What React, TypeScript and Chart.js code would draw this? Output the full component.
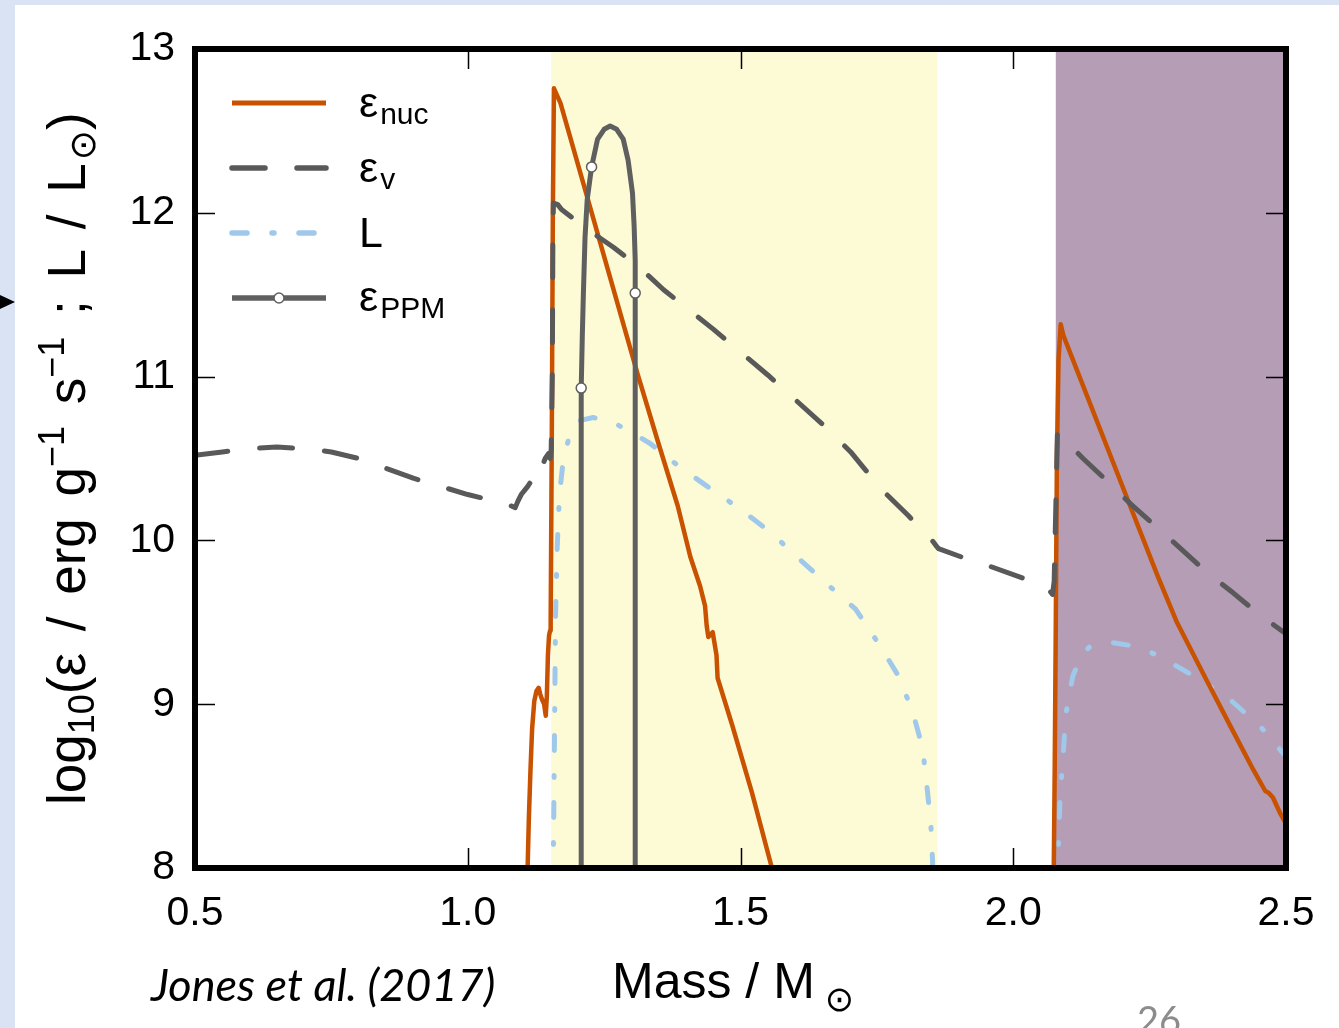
import React, { useEffect, useRef } from "react";
import { Chart, registerables } from "chart.js";

Chart.register(...registerables);

// ---------- data ----------
const xTickValues = [0.5, 1.0, 1.5, 2.0, 2.5];
const yTickValues = [8, 9, 10, 11, 12, 13];

// shaded mass ranges
const bandStart = [1.153, 2.078];
const bandEnd = [1.861, 2.5];
const bandColor = ["#fdfad6", "#b59db5"];

// epsilon_nuc (two burning episodes, gap = null)
const nucMass = [
  1.109, 1.112, 1.115, 1.118, 1.122, 1.126, 1.13, 1.133, 1.136, 1.14, 1.143, 1.145, 1.147, 1.149, 1.151,
  1.152, 1.154, 1.156, 1.158, 1.17, 1.311, 1.348, 1.385, 1.408, 1.426, 1.435, 1.438, 1.441, 1.449, 1.456,
  1.458, 1.485, 1.521, 1.556, 1.562,
  1.8,
  2.074, 2.076, 2.078, 2.08, 2.083, 2.087, 2.092, 2.212, 2.265, 2.3, 2.357, 2.399, 2.44, 2.462, 2.468,
  2.476, 2.49, 2.5,
];
const nucLog = [
  7.9, 8.3, 8.6, 8.85, 9.02, 9.08, 9.1, 9.06, 9.03, 9.0, 8.93, 9.05, 9.3, 9.42, 9.45,
  9.5, 10.6, 12.0, 12.76, 12.67, 11.02, 10.61, 10.21, 9.9, 9.72, 9.6, 9.48, 9.41, 9.44, 9.3,
  9.16, 8.87, 8.46, 8.02, 7.9,
  null,
  7.9, 8.6, 9.5, 10.5, 11.1, 11.32, 11.25, 10.23, 9.78, 9.5, 9.13, 8.86, 8.6, 8.47, 8.46,
  8.43, 8.33, 8.27,
];

// epsilon_v
const vMass = [
  0.5, 0.55, 0.6, 0.65, 0.7, 0.75, 0.8, 0.85, 0.9, 0.95, 1.0, 1.05, 1.08, 1.087, 1.092, 1.098,
  1.11, 1.12, 1.128, 1.132, 1.136, 1.142, 1.148, 1.151, 1.153, 1.155, 1.156, 1.157, 1.165, 1.172,
  1.219, 1.267, 1.317, 1.359, 1.45, 1.55, 1.65, 1.702, 1.724, 1.762, 1.808, 1.849, 1.858, 1.863,
  1.904, 1.959, 2.017, 2.065, 2.072, 2.075, 2.078, 2.081, 2.09, 2.128, 2.173, 2.216, 2.263, 2.307,
  2.353, 2.403, 2.45, 2.5,
];
const vLog = [
  10.52, 10.54, 10.56, 10.57, 10.56, 10.54, 10.5, 10.44, 10.38, 10.33, 10.28, 10.24, 10.21, 10.2, 10.24, 10.28,
  10.33, 10.38, 10.42, 10.47, 10.45, 10.5, 10.53, 10.5, 10.56, 11.0, 11.8, 12.06, 12.05, 12.02,
  11.9, 11.79, 11.66, 11.53, 11.29, 11.01, 10.71, 10.54, 10.45, 10.3, 10.15, 10.01, 9.97, 9.95,
  9.9, 9.84, 9.77, 9.7, 9.67, 9.75, 10.2, 10.66, 10.63, 10.5, 10.36, 10.22, 10.08, 9.95,
  9.81, 9.68, 9.55, 9.43,
];

// luminosity L (two episodes, gap = null)
const lumMass = [
  1.155, 1.157, 1.159, 1.161, 1.164, 1.168, 1.175, 1.185, 1.192, 1.203, 1.23, 1.261, 1.3, 1.335, 1.384,
  1.439, 1.5, 1.555, 1.61, 1.66, 1.711, 1.757, 1.79, 1.816, 1.834, 1.843, 1.849, 1.852, 1.853,
  1.95,
  2.08, 2.083, 2.086, 2.091, 2.096, 2.109, 2.125, 2.14, 2.175, 2.212, 2.25, 2.28, 2.342, 2.397, 2.454, 2.5,
];
const lumLog = [
  7.9, 8.1, 8.8, 9.56, 9.96, 10.27, 10.49, 10.62, 10.67, 10.73, 10.75, 10.73, 10.66, 10.59, 10.46,
  10.33, 10.19, 10.05, 9.88, 9.73, 9.58, 9.35, 9.17, 8.95, 8.73, 8.46, 8.26, 8.05, 7.9,
  null,
  7.9, 8.16, 8.45, 8.66, 8.93, 9.17, 9.3, 9.35, 9.38, 9.36, 9.32, 9.27, 9.15, 9.03, 8.86, 8.68,
];

// epsilon_PPM
const ppmMass = [
  1.208, 1.208, 1.21, 1.212, 1.215, 1.219, 1.227, 1.238, 1.25, 1.261, 1.273, 1.285, 1.294, 1.302,
  1.305, 1.307, 1.307, 1.307,
];
const ppmLog = [
  7.9, 10.93, 11.25, 11.51, 11.85, 12.08, 12.28, 12.45, 12.51, 12.53, 12.51, 12.45, 12.32, 12.12,
  11.92, 11.71, 11.51, 7.9,
];
const ppmMarkerIdx = [1, 6, 16];

// ---------- styles ----------
const FONT = "'Liberation Sans', Arial, Helvetica, sans-serif";
const C_NUC = "#c85200";
const C_V = "#595959";
const C_L = "#9fc8ea";
const C_PPM = "#5f5f5f";
const DASH_V = [33, 32];
const DASH_L = [15, 25, 2, 25];

const pts = (xs: number[], ys: (number | null)[]) => xs.map((x, i) => ({ x, y: ys[i] }));

const decorPlugin = {
  id: "decor",
  beforeDatasetsDraw(chart: any) {
    const { ctx, chartArea: a, scales } = chart;
    const xs = scales.x;
    ctx.save();
    for (let i = 0; i < bandStart.length; i++) {
      const x0 = xs.getPixelForValue(bandStart[i]);
      const x1 = xs.getPixelForValue(bandEnd[i]);
      ctx.fillStyle = bandColor[i];
      ctx.fillRect(x0, a.top, x1 - x0, a.bottom - a.top);
    }
    ctx.restore();
  },
  afterDatasetsDraw(chart: any) {
    const { ctx, chartArea: a, scales } = chart;
    const xs = scales.x;
    const ys = scales.y;
    const TL = 20;
    ctx.save();
    ctx.strokeStyle = "#000";
    ctx.lineWidth = 1.5;
    ctx.beginPath();
    for (const t of xs.ticks) {
      const px = Math.round(xs.getPixelForValue(t.value)) + 0.5;
      ctx.moveTo(px, a.bottom);
      ctx.lineTo(px, a.bottom - TL);
      ctx.moveTo(px, a.top);
      ctx.lineTo(px, a.top + TL);
    }
    for (const t of ys.ticks) {
      const py = Math.round(ys.getPixelForValue(t.value)) + 0.5;
      ctx.moveTo(a.left, py);
      ctx.lineTo(a.left + TL, py);
      ctx.moveTo(a.right, py);
      ctx.lineTo(a.right - TL, py);
    }
    ctx.stroke();
    ctx.lineWidth = 6;
    ctx.strokeRect(a.left, a.top, a.right - a.left, a.bottom - a.top);

    // legend samples
    const x0 = a.left + 37;
    const x1 = a.left + 131;
    const rows = [54, 119, 184, 249];
    const order = [2, 1, 3, 0]; // nuc, v, L, ppm
    order.forEach((di, r) => {
      const ds = chart.data.datasets[di];
      const y = a.top + rows[r];
      ctx.save();
      ctx.strokeStyle = ds.borderColor;
      ctx.lineWidth = ds.borderWidth + 0.5;
      ctx.lineCap = ds.borderDash && ds.borderDash.length ? "round" : "butt";
      ctx.setLineDash(ds.borderDash || []);
      ctx.beginPath();
      ctx.moveTo(x0, y);
      ctx.lineTo(x1, y);
      ctx.stroke();
      if (di === 0) {
        ctx.setLineDash([]);
        ctx.fillStyle = "#fff";
        ctx.lineWidth = 1.5;
        ctx.beginPath();
        ctx.arc((x0 + x1) / 2, y, 5, 0, Math.PI * 2);
        ctx.fill();
        ctx.stroke();
      }
      ctx.restore();
    });
    ctx.restore();
  },
};

function ChartCanvas() {
  const ref = useRef<HTMLCanvasElement | null>(null);
  useEffect(() => {
    if (!ref.current) return;
    const ppmRadius = ppmMass.map((_, i) => (ppmMarkerIdx.includes(i) ? 5 : 0));
    const chart = new Chart(ref.current, {
      type: "line",
      data: {
        datasets: [
          {
            label: "εPPM",
            data: pts(ppmMass, ppmLog),
            borderColor: C_PPM,
            borderWidth: 5,
            borderJoinStyle: "round",
            pointRadius: ppmRadius,
            pointBackgroundColor: "#fff",
            pointBorderColor: C_PPM,
            pointBorderWidth: 1.5,
            clip: 0,
          } as any,
          {
            label: "εv",
            data: pts(vMass, vLog),
            borderColor: C_V,
            borderWidth: 5,
            borderDash: DASH_V,
            borderCapStyle: "round",
            borderJoinStyle: "round",
            pointRadius: 0,
            clip: 0,
          },
          {
            label: "εnuc",
            data: pts(nucMass, nucLog),
            borderColor: C_NUC,
            borderWidth: 4.5,
            borderJoinStyle: "round",
            pointRadius: 0,
            clip: 0,
          },
          {
            label: "L",
            data: pts(lumMass, lumLog),
            borderColor: C_L,
            borderWidth: 5,
            borderDash: DASH_L,
            borderCapStyle: "round",
            borderJoinStyle: "round",
            pointRadius: 0,
            clip: 0,
          },
        ],
      },
      options: {
        animation: false,
        responsive: false,
        devicePixelRatio: 1,
        spanGaps: false,
        layout: { padding: { left: 0, right: 53, top: 49, bottom: 0 } },
        plugins: { legend: { display: false }, tooltip: { enabled: false } },
        scales: {
          x: {
            type: "linear",
            min: 0.5,
            max: 2.5,
            afterBuildTicks: (s: any) => {
              s.ticks = xTickValues.map((v) => ({ value: v }));
            },
            afterFit: (s: any) => {
              s.height = 160;
            },
            ticks: {
              color: "#000",
              font: { family: FONT, size: 41 },
              padding: 13,
              maxRotation: 0,
              autoSkip: false,
              callback: (v: any) => Number(v).toFixed(1),
            },
            grid: { display: false },
            border: { display: false },
          },
          y: {
            type: "linear",
            min: 8,
            max: 13,
            afterBuildTicks: (s: any) => {
              s.ticks = yTickValues.map((v) => ({ value: v }));
            },
            afterFit: (s: any) => {
              s.width = 195;
            },
            ticks: {
              color: "#000",
              font: { family: FONT, size: 41 },
              padding: 12,
              autoSkip: false,
              callback: (v: any) => String(v),
            },
            grid: { display: false },
            border: { display: false },
          },
        },
      } as any,
      plugins: [decorPlugin],
    });
    return () => chart.destroy();
  }, []);
  return (
    <canvas
      ref={ref}
      width={1339}
      height={1028}
      style={{ position: "absolute", left: 0, top: 0, width: 1339, height: 1028 }}
    />
  );
}

const abs = (o: React.CSSProperties): React.CSSProperties => ({ position: "absolute", whiteSpace: "nowrap", ...o });

export default function App() {
  const legendRows: { main: string; sub: string; baseline: number }[] = [
    { main: "ε", sub: "nuc", baseline: 117 },
    { main: "ε", sub: "v", baseline: 182 },
    { main: "L", sub: "", baseline: 247 },
    { main: "ε", sub: "PPM", baseline: 311 },
  ];
  const LF = 43;
  const sup: React.CSSProperties = { fontSize: 36, position: "relative", top: -21 };
  return (
    <div
      style={{
        position: "absolute",
        left: 0,
        top: 0,
        width: 1339,
        height: 1028,
        overflow: "hidden",
        background: "#fff",
        fontFamily: FONT,
        color: "#000",
      }}
    >
      <div style={abs({ left: 0, top: 0, width: 15, height: 1028, background: "#dae3f3" })} />
      <div style={abs({ left: 0, top: 0, width: 1339, height: 5, background: "#dae3f3" })} />
      <div
        style={abs({
          left: 0,
          top: 295,
          width: 0,
          height: 0,
          borderTop: "7px solid transparent",
          borderBottom: "7px solid transparent",
          borderLeft: "15px solid #000",
        })}
      />
      <ChartCanvas />
      {legendRows.map((r, i) => (
        <div key={i} style={abs({ left: 359, top: r.baseline - 0.8465 * LF, fontSize: LF, lineHeight: `${LF}px` })}>
          {r.main}
          {r.sub ? (
            <span style={{ fontSize: 30, position: "relative", top: 7, marginLeft: 2 }}>{r.sub}</span>
          ) : null}
        </div>
      ))}
      {/* y axis title */}
      <div
        style={abs({
          left: 40,
          top: 805,
          transformOrigin: "0 0",
          transform: "rotate(-90deg)",
          fontSize: 53,
          lineHeight: "53px",
          wordSpacing: 7,
        })}
      >
        log<span style={{ fontSize: 36, position: "relative", top: 9 }}>10</span>(ε / erg g
        <span style={sup}>−1</span> s<span style={sup}>−1</span> ; L / L
        <span style={{ fontSize: 36, position: "relative", top: 10, marginLeft: 3, fontFamily: "'DejaVu Sans', sans-serif" }}>⊙</span>)
      </div>
      {/* x axis title */}
      <div style={abs({ left: 612, top: 956, fontSize: 50, lineHeight: "50px" })}>
        Mass / M
        <span style={{ fontSize: 35, position: "relative", top: 13, marginLeft: 10, fontFamily: "'DejaVu Sans', sans-serif" }}>⊙</span>
      </div>
      <div
        style={abs({
          left: 151,
          top: 962,
          fontSize: 45,
          lineHeight: "45px",
          fontStyle: "italic",
          fontFamily: "Lato, 'Open Sans', sans-serif",
        })}
      >
        Jones et al. (2017)
      </div>
      <div
        style={abs({
          left: 1137,
          top: 1000,
          fontSize: 38,
          lineHeight: "38px",
          color: "#8c8c8c",
          fontFamily: "Lato, 'Open Sans', sans-serif",
        })}
      >
        26
      </div>
    </div>
  );
}
